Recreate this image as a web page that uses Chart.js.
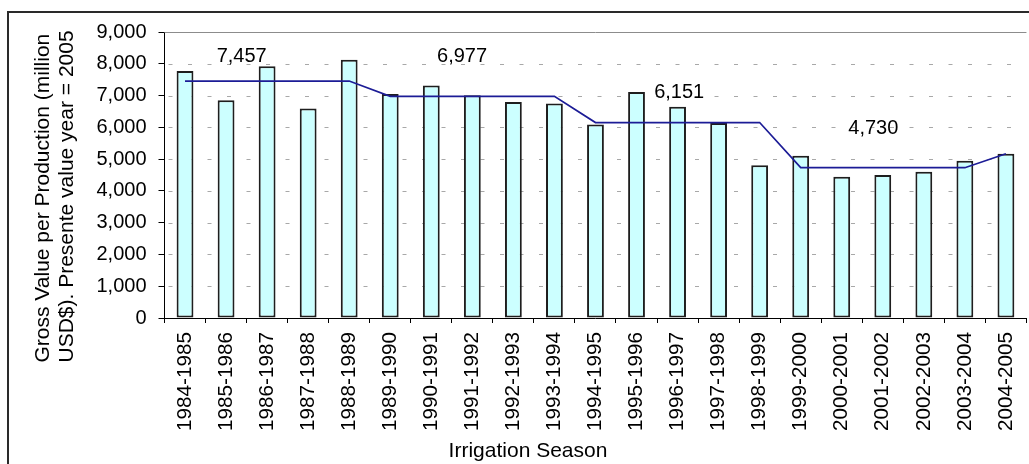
<!DOCTYPE html>
<html>
<head>
<meta charset="utf-8">
<script src="https://cdn.jsdelivr.net/npm/chart.js@4.4.1/dist/chart.umd.min.js"></script>
<style>
  html, body { margin: 0; padding: 0; background: #fff; overflow: hidden; }
  #wrap { position: absolute; left: 0; top: 0; width: 1040px; height: 464px; }
</style>
</head>
<body>
<div id="wrap"><canvas id="chart" width="1040" height="464"></canvas></div>
<script>
// Irrigation seasons
const seasons = [
  '1984-1985', '1985-1986', '1986-1987', '1987-1988', '1988-1989',
  '1989-1990', '1990-1991', '1991-1992', '1992-1993', '1993-1994',
  '1994-1995', '1995-1996', '1996-1997', '1997-1998', '1998-1999',
  '1999-2000', '2000-2001', '2001-2002', '2002-2003', '2003-2004',
  '2004-2005'
];

// Gross value of production per season (million USD, present value year 2005)
const grossValue = [
  7775, 6850, 7920, 6590, 8130,
  7050, 7320, 7010, 6800, 6750,
  6090, 7115, 6645, 6140, 4810,
  5105, 4445, 4500, 4605, 4950,
  5170
];

// Five-season period averages
const periodAverage = [
  7457, 7457, 7457, 7457, 7457,
  6977, 6977, 6977, 6977, 6977,
  6151, 6151, 6151, 6151, 6151,
  4730, 4730, 4730, 4730, 4730,
  5170
];

// Average value annotations and where they sit (category index, value)
const averageLabels = ['7,457', '6,977', '6,151', '4,730'];
const averageLabelIndex = [1.38, 6.75, 12.04, 16.77];
const averageLabelLevel = [8226, 8226, 7090, 5970];

const yTitleLines = ['Gross Value per Production (million', 'USD$). Presente value year = 2005'];
const xTitle = 'Irrigation Season';

const FONT = '"Liberation Sans", Arial, sans-serif';

const decorations = {
  id: 'decorations',
  beforeDraw(chart) {
    const ctx = chart.ctx;
    ctx.save();
    ctx.fillStyle = '#fff';
    ctx.fillRect(0, 0, chart.width, chart.height);
    ctx.strokeStyle = '#2a2a2a';
    ctx.lineWidth = 2;
    ctx.strokeRect(8, 12, chart.width + 20, chart.height + 20);
    ctx.restore();
  },
  beforeDatasetsDraw(chart) {
    const ctx = chart.ctx;
    const a = chart.chartArea;
    const ys = chart.scales.y;
    ctx.save();
    // dashed horizontal gridlines at each y tick
    ctx.strokeStyle = '#a8a8a8';
    ctx.lineWidth = 1;
    ctx.setLineDash([4, 15.5]);
    ys.ticks.forEach((t) => {
      if (t.value <= ys.min || t.value >= ys.max) return;
      const y = Math.round(ys.getPixelForValue(t.value)) + 0.5;
      ctx.beginPath();
      ctx.moveTo(a.left + 4, y);
      ctx.lineTo(a.right, y);
      ctx.stroke();
    });
    // plot area top edge
    ctx.setLineDash([]);
    ctx.strokeStyle = '#8c8c8c';
    ctx.beginPath();
    ctx.moveTo(a.left, Math.round(a.top) + 0.5);
    ctx.lineTo(a.right, Math.round(a.top) + 0.5);
    ctx.stroke();
    ctx.restore();
  },
  afterDraw(chart) {
    const ctx = chart.ctx;
    const xs = chart.scales.x;
    const ys = chart.scales.y;
    ctx.save();
    ctx.fillStyle = '#000';
    ctx.font = '20px ' + FONT;
    ctx.textAlign = 'center';
    ctx.textBaseline = 'middle';
    averageLabels.forEach((t, i) => {
      ctx.fillText(t, xs.getPixelForValue(averageLabelIndex[i]), ys.getPixelForValue(averageLabelLevel[i]));
    });

    // y-axis title, two rotated lines
    ctx.textAlign = 'left';
    ctx.textBaseline = 'alphabetic';
    ctx.font = '21px ' + FONT;
    const baseX = [48.5, 72.5];
    yTitleLines.forEach((t, i) => {
      ctx.save();
      ctx.translate(baseX[i], 362.5);
      ctx.rotate(-Math.PI / 2);
      ctx.fillText(t, 0, 0);
      ctx.restore();
    });

    // x-axis title
    ctx.font = '21px ' + FONT;
    ctx.textAlign = 'center';
    ctx.fillText(xTitle, 528, 456.5);
    ctx.restore();
  }
};

new Chart(document.getElementById('chart'), {
  type: 'bar',
  data: {
    labels: seasons,
    datasets: [
      {
        type: 'line',
        label: 'Period average',
        data: periodAverage,
        borderColor: '#1c1c96',
        borderWidth: 1.7,
        pointRadius: 0,
        tension: 0,
        fill: false,
        order: 0
      },
      {
        type: 'bar',
        label: 'Gross value',
        data: grossValue,
        backgroundColor: '#ccffff',
        borderColor: '#1e1e1e',
        borderWidth: 2,
        borderSkipped: false,
        categoryPercentage: 1,
        barPercentage: 0.41,
        order: 1
      }
    ]
  },
  options: {
    responsive: false,
    animation: false,
    devicePixelRatio: 1,
    layout: { padding: { left: 0, right: 10, top: 32, bottom: 0 } },
    plugins: {
      legend: { display: false },
      tooltip: { enabled: false }
    },
    scales: {
      x: {
        afterFit(scale) { scale.height = 146; },
        grid: {
          offset: true,
          drawOnChartArea: false,
          drawTicks: true,
          tickLength: 5,
          tickColor: '#000',
          tickWidth: 1
        },
        border: { display: true, color: '#000', width: 1 },
        ticks: {
          autoSkip: false,
          maxRotation: 90,
          minRotation: 90,
          padding: 9,
          color: '#000',
          font: { family: FONT, size: 20.7 }
        }
      },
      y: {
        min: 0,
        max: 9000,
        afterFit(scale) { scale.width = 164.5; },
        grid: {
          drawOnChartArea: false,
          drawTicks: true,
          tickLength: 6,
          tickColor: '#000'
        },
        border: { display: true, color: '#000', width: 1 },
        ticks: {
          stepSize: 1000,
          padding: 12,
          color: '#000',
          font: { family: FONT, size: 20 },
          callback: (v) => Number(v).toLocaleString('en-US')
        }
      }
    }
  },
  plugins: [decorations]
});
</script>
</body>
</html>
